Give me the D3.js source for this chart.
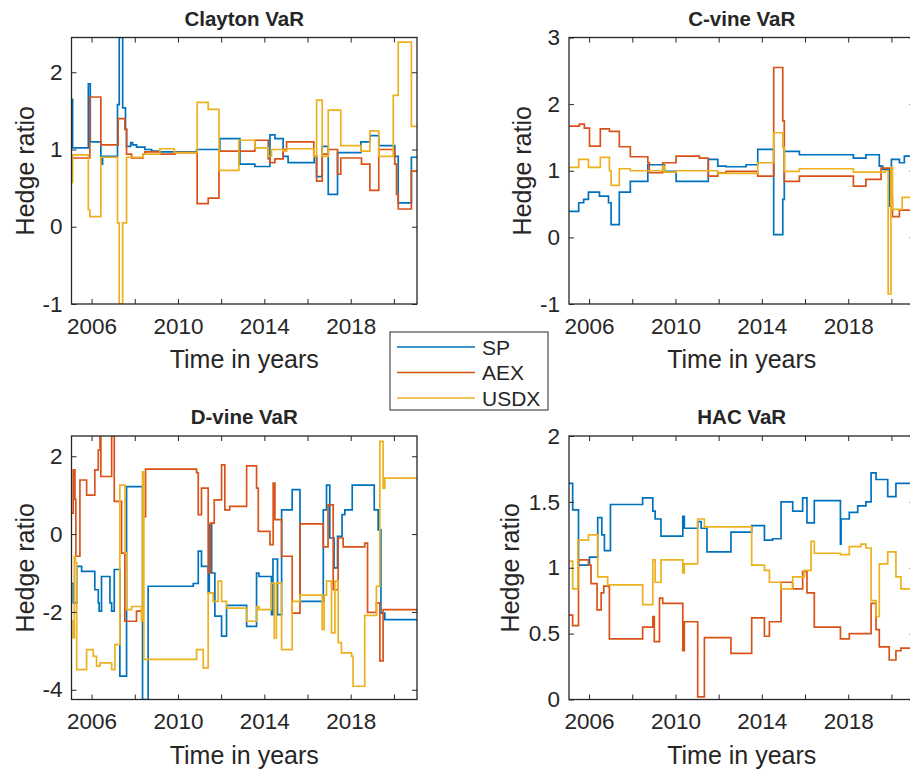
<!DOCTYPE html>
<html><head><meta charset="utf-8">
<script src="https://cdn.jsdelivr.net/npm/d3@7"></script>
<style>
body{margin:0;background:#fff;}
text{font-family:"Liberation Sans",Arial,Helvetica,sans-serif;fill:#262626;}
</style></head>
<body><svg id="chart" width="910" height="778"></svg>
<script>
// ---- data ----
const seriesNames = ["SP", "AEX", "USDX"];
const seriesColors = ["#0072BD", "#D95319", "#EDB120"];
const panelTitles = ["Clayton VaR", "C-vine VaR", "D-vine VaR", "HAC VaR"];
const xTickYears = [2006, 2008, 2010, 2012, 2014, 2016, 2018, 2020];
const xTickLabels = [2006, 2010, 2014, 2018];
const yTicksClayton = [-1, 0, 1, 2];
const yTicksCvine = [-1, 0, 1, 2, 3];
const yTicksDvine = [-4, -2, 0, 2];
const yTicksHAC = [0, 0.5, 1, 1.5, 2];
const xDomain = [2005.07, 2021.07];
const yDomainClayton = [-1, 2.45];
const yDomainCvine = [-1, 3];
const yDomainDvine = [-4.25, 2.52];
const yDomainHAC = [0, 2];

// step series: [year, value] value holds until next year
const claytonSP = [[2005.07,1.65],[2005.12,1.02],[2005.85,1.85],[2005.94,1.10],[2006.43,0.81],[2006.51,0.91],[2007.20,1.58],[2007.28,2.45],[2007.44,1.54],[2007.57,1.26],[2007.62,1.04],[2007.81,1.09],[2007.90,1.06],[2008.08,1.03],[2008.47,1.0],[2008.78,0.98],[2009.16,0.97],[2010.86,1.0],[2011.94,1.14],[2012.87,0.81],[2013.56,0.78],[2014.26,1.19],[2014.49,1.14],[2014.87,0.91],[2015.10,0.83],[2016.31,0.91],[2016.42,0.65],[2016.68,1.04],[2016.96,0.42],[2017.39,0.96],[2018.47,1.10],[2018.89,1.18],[2019.30,1.05],[2020.04,0.91],[2020.20,0.31],[2020.81,0.90],[2021.07,0.90]];
const claytonAEX = [[2005.07,0.89],[2005.92,1.68],[2006.43,1.06],[2007.23,1.40],[2007.54,1.26],[2007.62,0.94],[2007.85,0.89],[2008.39,0.94],[2008.47,0.97],[2009.16,0.94],[2009.86,0.96],[2010.89,0.30],[2011.40,0.37],[2011.90,0.98],[2013.56,1.12],[2014.18,0.88],[2014.26,0.83],[2014.49,0.88],[2014.87,1.0],[2015.03,1.10],[2016.29,0.91],[2016.42,0.59],[2016.68,0.94],[2016.96,1.0],[2017.39,0.68],[2017.54,0.89],[2018.50,0.81],[2018.89,0.47],[2019.30,1.0],[2020.04,0.81],[2020.12,0.42],[2020.20,0.23],[2020.81,0.72],[2021.07,0.72]];
const claytonUSDX = [[2005.07,0.57],[2005.12,0.93],[2005.85,0.22],[2005.92,0.13],[2006.43,0.90],[2007.20,0.05],[2007.28,-1.0],[2007.44,0.05],[2007.62,0.90],[2008.39,0.94],[2009.16,1.01],[2009.83,0.96],[2010.89,1.61],[2011.40,1.52],[2011.90,0.73],[2012.82,1.12],[2013.56,1.02],[2014.18,0.91],[2014.33,1.0],[2014.87,0.98],[2015.03,1.01],[2016.29,0.91],[2016.42,1.64],[2016.68,0.91],[2016.96,1.51],[2017.54,1.05],[2018.47,0.98],[2018.89,1.24],[2019.30,0.91],[2019.97,1.70],[2020.20,2.39],[2020.81,1.30],[2021.07,1.30]];

const cvineSP = [[2005.07,0.39],[2005.52,0.52],[2005.75,0.57],[2005.97,0.68],[2006.48,0.62],[2006.90,0.52],[2007.02,0.19],[2007.40,0.68],[2007.91,0.84],[2008.72,1.09],[2009.49,0.99],[2010.03,0.84],[2011.52,1.17],[2011.96,1.07],[2012.34,1.06],[2013.27,1.09],[2013.81,1.32],[2014.55,0.04],[2014.97,0.57],[2015.04,1.29],[2015.74,1.24],[2018.24,1.19],[2018.82,1.24],[2019.44,1.07],[2019.60,1.02],[2019.90,0.47],[2020.00,1.17],[2020.37,1.12],[2020.60,1.22],[2021.07,1.22]];
const cvineAEX = [[2005.07,1.67],[2005.55,1.70],[2005.78,1.64],[2006.02,1.37],[2006.52,1.63],[2006.94,1.59],[2007.40,1.36],[2007.91,1.21],[2008.72,1.12],[2008.79,0.97],[2009.41,1.12],[2010.03,1.22],[2011.11,1.19],[2011.52,0.92],[2011.96,0.97],[2012.34,0.99],[2013.81,0.92],[2014.55,2.55],[2014.97,1.75],[2015.04,0.84],[2015.74,0.92],[2018.24,0.77],[2018.82,0.87],[2019.52,1.04],[2019.98,0.60],[2020.05,0.31],[2020.37,0.41],[2021.07,0.41]];
const cvineUSDX = [[2005.07,1.05],[2005.52,1.17],[2005.97,1.05],[2006.52,1.20],[2006.94,1.00],[2007.02,0.78],[2007.40,1.03],[2007.91,1.00],[2009.41,1.07],[2009.49,0.98],[2010.03,1.00],[2011.52,1.00],[2011.96,0.96],[2013.81,1.12],[2014.55,1.57],[2014.97,1.35],[2015.04,0.99],[2015.74,1.03],[2018.24,0.98],[2019.70,1.00],[2019.85,-0.85],[2019.98,1.05],[2020.05,0.42],[2020.50,0.60],[2021.07,0.60]];

const dvineSP = [[2005.07,-1.27],[2005.15,-1.77],[2005.31,-0.83],[2005.54,-0.96],[2006.15,-1.43],[2006.31,-1.77],[2006.35,-1.98],[2006.46,-1.09],[2006.85,-1.77],[2006.93,-1.98],[2007.05,-0.91],[2007.31,-3.65],[2007.62,1.22],[2008.36,-4.25],[2008.62,-1.34],[2010.71,-1.27],[2010.94,-0.44],[2011.09,-0.83],[2011.40,-1.51],[2011.45,0.24],[2011.56,-1.0],[2011.71,-2.11],[2012.02,-2.62],[2012.25,-1.83],[2013.18,-2.37],[2013.64,-1.0],[2013.75,-1.09],[2014.33,-2.07],[2014.40,-0.64],[2014.61,-2.07],[2014.80,0.62],[2015.29,1.14],[2015.65,-1.73],[2016.73,0.62],[2016.88,1.26],[2017.03,-0.10],[2017.23,-0.87],[2017.39,-0.06],[2017.60,0.50],[2017.73,0.62],[2018.07,1.26],[2019.09,0.62],[2019.27,0.11],[2019.40,-2.03],[2019.58,-2.20],[2021.07,-2.20]];
const dvineAEX = [[2005.07,0.54],[2005.15,1.65],[2005.23,0.89],[2005.27,-0.57],[2005.46,1.39],[2005.77,1.0],[2006.15,1.65],[2006.31,2.16],[2006.39,2.52],[2006.43,1.48],[2006.93,2.52],[2007.05,0.84],[2007.39,-0.49],[2007.54,-2.24],[2008.08,-1.98],[2008.39,0.45],[2008.50,1.67],[2010.86,1.58],[2010.94,0.50],[2011.09,1.18],[2011.40,-1.0],[2011.50,0.28],[2011.68,0.88],[2012.02,1.78],[2012.17,0.62],[2012.40,0.71],[2013.18,1.75],[2013.64,1.18],[2013.72,0.07],[2014.26,-0.27],[2014.41,1.31],[2014.49,0.37],[2014.80,-0.57],[2015.29,-2.03],[2015.65,0.26],[2016.73,-0.33],[2016.95,0.75],[2017.19,-1.43],[2017.42,-0.10],[2017.65,-0.33],[2018.65,-0.23],[2018.78,-2.01],[2019.19,-1.77],[2019.35,-3.26],[2019.50,-1.94],[2021.07,-1.94]];
const dvineUSDX = [[2005.07,-2.24],[2005.15,-2.67],[2005.20,-0.57],[2005.25,-0.74],[2005.31,-3.48],[2005.77,-2.97],[2006.08,-3.14],[2006.23,-3.39],[2006.39,-3.31],[2006.93,-3.48],[2007.08,-2.84],[2007.31,1.26],[2007.55,-0.49],[2007.62,-1.94],[2007.85,-1.86],[2008.31,-2.24],[2008.36,1.60],[2008.42,-3.22],[2010.86,-2.97],[2011.17,-3.44],[2011.40,-1.51],[2011.63,-1.73],[2011.86,-1.21],[2012.02,-1.73],[2012.25,-1.90],[2013.18,-2.24],[2013.64,-1.86],[2013.75,-1.94],[2014.33,-1.26],[2014.46,-2.67],[2014.56,-1.26],[2014.80,-2.97],[2015.29,-1.73],[2015.65,-1.57],[2016.68,-2.45],[2016.77,-1.57],[2016.88,-1.21],[2017.11,-2.54],[2017.27,-1.21],[2017.42,-2.79],[2017.57,-3.05],[2018.04,-3.14],[2018.11,-3.91],[2018.65,-2.09],[2019.19,-1.34],[2019.35,2.38],[2019.50,1.18],[2019.58,1.44],[2021.07,1.44]];

const hacSP = [[2005.07,1.64],[2005.24,1.44],[2005.51,1.02],[2006.02,1.08],[2006.40,1.38],[2006.59,1.25],[2006.71,1.13],[2006.99,1.48],[2008.48,1.53],[2008.95,1.43],[2009.06,1.37],[2009.33,1.24],[2010.34,1.39],[2010.41,1.30],[2011.03,1.35],[2011.19,1.30],[2011.46,1.12],[2012.57,1.27],[2013.53,1.32],[2014.12,1.21],[2014.50,1.22],[2014.89,1.50],[2015.43,1.43],[2015.89,1.53],[2016.09,1.34],[2016.43,1.51],[2017.64,1.18],[2017.67,1.37],[2018.05,1.42],[2018.44,1.47],[2018.82,1.50],[2019.06,1.72],[2019.29,1.67],[2019.83,1.54],[2020.21,1.64],[2021.07,1.64]];
const hacAEX = [[2005.07,0.64],[2005.24,0.56],[2005.51,1.06],[2005.97,1.02],[2006.09,0.88],[2006.37,0.68],[2006.56,0.81],[2006.68,0.86],[2006.94,0.46],[2008.48,0.55],[2008.95,0.63],[2009.02,0.44],[2009.26,0.77],[2009.41,0.73],[2010.34,0.37],[2010.41,0.59],[2011.03,0.02],[2011.34,0.47],[2012.57,0.35],[2013.53,0.62],[2014.12,0.48],[2014.35,0.59],[2014.89,0.89],[2015.43,0.84],[2015.89,0.97],[2016.09,0.81],[2016.43,0.55],[2017.64,0.46],[2018.05,0.50],[2019.06,0.73],[2019.29,0.53],[2019.44,0.40],[2019.90,0.30],[2020.21,0.37],[2020.44,0.39],[2021.07,0.39]];
const hacUSDX = [[2005.07,1.05],[2005.24,0.84],[2005.48,1.21],[2005.97,1.25],[2006.40,0.93],[2006.86,0.87],[2008.48,0.72],[2008.95,1.06],[2009.06,0.89],[2009.33,1.06],[2010.34,0.96],[2010.41,1.03],[2011.03,1.37],[2011.34,1.31],[2013.53,1.02],[2014.12,0.98],[2014.35,0.89],[2014.89,0.84],[2015.43,0.93],[2015.97,0.98],[2016.28,1.20],[2016.43,1.11],[2017.64,1.10],[2018.05,1.16],[2018.59,1.18],[2018.82,1.15],[2019.06,0.75],[2019.29,0.63],[2019.44,1.03],[2019.83,1.12],[2020.21,0.93],[2020.44,0.84],[2021.07,0.84]];

// ---- layout ----
const svg = d3.select("#chart");
const AX = "#262626";
const panels = [
  {title: panelTitles[0], left: 71.5, top: 37.5, bottom: 304, yDomain: yDomainClayton, yTicks: yTicksClayton, yLabOff: 38, series: [claytonSP, claytonAEX, claytonUSDX]},
  {title: panelTitles[1], left: 569, top: 37.5, bottom: 304, yDomain: yDomainCvine, yTicks: yTicksCvine, yLabOff: 38, series: [cvineSP, cvineAEX, cvineUSDX]},
  {title: panelTitles[2], left: 71.5, top: 436, bottom: 699.5, yDomain: yDomainDvine, yTicks: yTicksDvine, yLabOff: 38, series: [dvineSP, dvineAEX, dvineUSDX]},
  {title: panelTitles[3], left: 569, top: 436, bottom: 699.5, yDomain: yDomainHAC, yTicks: yTicksHAC, yLabOff: 50, series: [hacSP, hacAEX, hacUSDX]}
];
const W = 345.5;

panels.forEach((p, i) => {
  const x = d3.scaleLinear().domain(xDomain).range([p.left, p.left + W]);
  const y = d3.scaleLinear().domain(p.yDomain).range([p.bottom, p.top]);
  const g = svg.append("g");
  const cid = "clip" + i;
  svg.append("clipPath").attr("id", cid).append("rect")
    .attr("x", p.left).attr("y", p.top).attr("width", W).attr("height", p.bottom - p.top);

  const line = d3.line().x(d => x(d[0])).y(d => y(d[1])).curve(d3.curveStepAfter);
  const lg = g.append("g").attr("clip-path", `url(#${cid})`);
  p.series.forEach((s, k) => {
    lg.append("path").datum(s).attr("d", line)
      .attr("fill", "none").attr("stroke", seriesColors[k]).attr("stroke-width", 1.7)
      .attr("stroke-linejoin", "miter");
  });

  const fmt = d => String(d);
  const xb = g.append("g").attr("transform", `translate(0,${p.bottom})`)
    .call(d3.axisBottom(x).tickValues(xTickYears).tickSize(-5).tickPadding(14)
      .tickFormat(d => xTickLabels.includes(d) ? String(d) : ""));
  const xt = g.append("g").attr("transform", `translate(0,${p.top})`)
    .call(d3.axisTop(x).tickValues(xTickYears).tickSize(-5).tickFormat(""));
  const yl = g.append("g").attr("transform", `translate(${p.left},0)`)
    .call(d3.axisLeft(y).tickValues(p.yTicks).tickSize(-5).tickPadding(9).tickFormat(fmt));
  const yr = g.append("g").attr("transform", `translate(${p.left + W},0)`)
    .call(d3.axisRight(y).tickValues(p.yTicks).tickSize(-5).tickFormat(""));
  [xb, xt, yl, yr].forEach(a => {
    a.select(".domain").remove();
    a.selectAll("line").attr("stroke", AX).attr("stroke-width", 1);
    a.selectAll("text").attr("fill", AX).style("font-size", "22.5px")
      .style("font-family", '"Liberation Sans",Arial,sans-serif');
  });
  g.append("rect").attr("x", p.left).attr("y", p.top).attr("width", W).attr("height", p.bottom - p.top)
    .attr("fill", "none").attr("stroke", AX).attr("stroke-width", 1.3);

  const cx = p.left + W / 2;
  g.append("text").attr("x", cx).attr("y", p.top - 12).attr("text-anchor", "middle")
    .style("font-size", "20.5px").style("font-weight", "bold").text(p.title);
  g.append("text").attr("x", cx).attr("y", p.bottom + 64).attr("text-anchor", "middle")
    .style("font-size", "25px").text("Time in years");
  g.append("text").attr("transform", `translate(${p.left - p.yLabOff},${(p.top + p.bottom) / 2}) rotate(-90)`)
    .attr("text-anchor", "middle").style("font-size", "25px").text("Hedge ratio");
});

// legend
const lgd = svg.append("g");
lgd.append("rect").attr("x", 390).attr("y", 332).attr("width", 158).attr("height", 78)
  .attr("fill", "#fff").attr("stroke", AX).attr("stroke-width", 1);
seriesNames.forEach((n, k) => {
  const yy = 347 + k * 25.5;
  lgd.append("line").attr("x1", 397).attr("x2", 475).attr("y1", yy).attr("y2", yy)
    .attr("stroke", seriesColors[k]).attr("stroke-width", 1.7);
  lgd.append("text").attr("x", 482).attr("y", yy).attr("dy", "0.36em")
    .style("font-size", "21px").text(n);
});
</script></body></html>
